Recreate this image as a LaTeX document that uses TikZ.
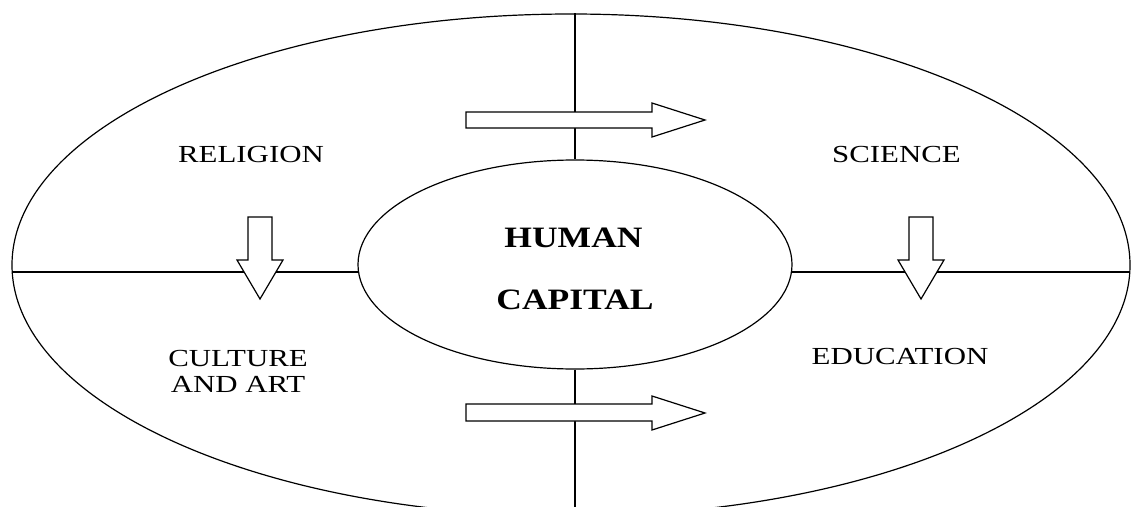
\documentclass[tikz,border=0pt]{standalone}
\usepackage{fontspec}
\setmainfont{Liberation Serif}
\newfontfamily\lblfont[FakeStretch=1.26]{Liberation Serif}
\newfontfamily\hcfont[FakeStretch=1.2]{Liberation Serif}
\usetikzlibrary{shapes.geometric}
\begin{document}
\begin{tikzpicture}[x=1pt,y=-1pt,
  line/.style={draw=black,line width=1.2pt},
  blockarrow/.style={draw=black,line width=1.2pt,fill=white,line join=miter},
  lbl/.style={font=\lblfont\fontsize{24.5}{26.5}\selectfont,align=center,inner sep=0pt,text=black},
  hc/.style={font=\hcfont\bfseries\fontsize{29.6}{62}\selectfont,align=center,inner sep=0pt,text=black}]
\useasboundingbox (0,0) rectangle (1132,506);
\clip (0,0) rectangle (1132,506);
% outer ellipse
\node[ellipse,line,minimum width=1118pt,minimum height=502pt,inner sep=0pt] (outer) at (571,265) {};
% inner ellipse
\node[ellipse,line,minimum width=434pt,minimum height=209pt,inner sep=0pt] (inner) at (575,264.5) {};
% connecting coordinates
\coordinate (ol) at (12,272);
\coordinate (il) at (358.5,272);
\coordinate (ir) at (791.5,272);
\coordinate (or) at (1130,272);
\coordinate (ob) at (575,520);
\draw[line] (outer.north -| inner.north) -- (inner.north);
\draw[line] (inner.south) -- (ob);
\draw[line] (ol) -- (il);
\draw[line] (ir) -- (or);
% block arrows
\draw[blockarrow] (466,112) -- (652,112) -- (652,103) -- (705,120) -- (652,137) -- (652,128) -- (466,128) -- cycle;
\draw[blockarrow] (466,404) -- (652,404) -- (652,396) -- (705,413) -- (652,430) -- (652,421) -- (466,421) -- cycle;
\draw[blockarrow] (248,217) -- (272,217) -- (272,260) -- (283,260) -- (260,299) -- (237,260) -- (248,260) -- cycle;
\draw[blockarrow] (909,217) -- (933,217) -- (933,260) -- (944,260) -- (921,299) -- (898,260) -- (909,260) -- cycle;
% labels
\node[lbl,anchor=base] (religion) at (251,162) {RELIGION};
\node[lbl,anchor=base] (science) at (896.5,162) {SCIENCE};
\node[lbl,anchor=base] (culture) at (238,366) {CULTURE};
\node[lbl,anchor=base] (andart) at (238,392.5) {AND ART};
\node[lbl,anchor=base] (education) at (900,364) {EDUCATION};
\node[hc,anchor=base] (human) at (573.5,247) {HUMAN};
\node[hc,anchor=base] (capital) at (575,309) {CAPITAL};
\end{tikzpicture}
\end{document}
